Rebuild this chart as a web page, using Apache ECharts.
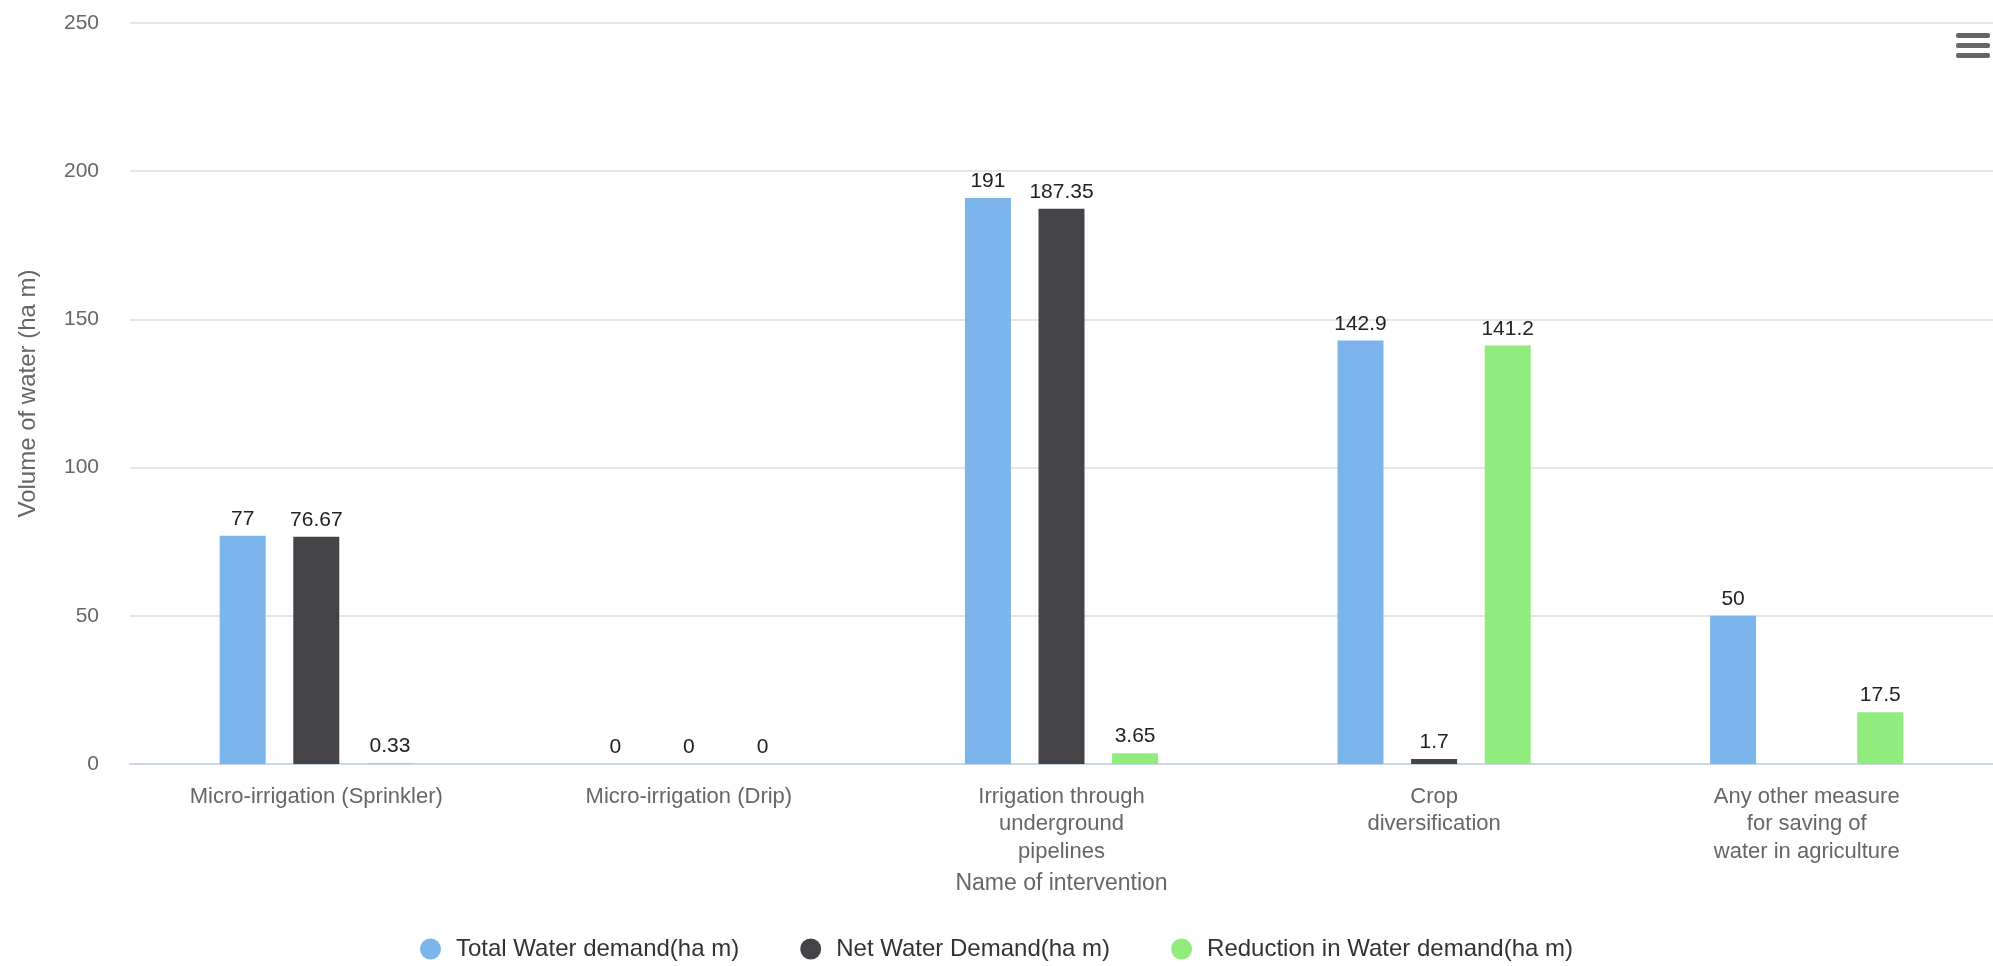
<!DOCTYPE html>
<html>
<head>
<meta charset="utf-8">
<script src="https://cdn.jsdelivr.net/npm/echarts@6/dist/echarts.min.js"></script>
<style>
html,body{margin:0;padding:0;background:#fff;}
#chart{width:1993px;height:966px;}
</style>
</head>
<body>
<div id="chart"></div>
<script>
const categories = [
  "Micro-irrigation (Sprinkler)",
  "Micro-irrigation (Drip)",
  "Irrigation through\nunderground\npipelines",
  "Crop\ndiversification",
  "Any other measure\nfor saving of\nwater in agriculture"
];
const totalWaterDemand = [77, 0, 191, 142.9, 50];
const netWaterDemand = [76.67, 0, 187.35, 1.7, null];
const reductionInWaterDemand = [0.33, 0, 3.65, 141.2, 17.5];
const seriesNames = ["Total Water demand(ha m)", "Net Water Demand(ha m)", "Reduction in Water demand(ha m)"];
const yAxisTitle = "Volume of water (ha m)";
const xAxisTitle = "Name of intervention";

const FONT = "'Liberation Sans', Arial, sans-serif";
const colors = ["#7cb5ec", "#434348", "#90ed7d"];

const chart = echarts.init(document.getElementById('chart'), null, {renderer: 'canvas'});

function barSeries(name, data, color) {
  return {
    name: name,
    type: 'bar',
    data: data,
    barWidth: 46,
    barGap: '60%',
    itemStyle: {color: color},
    label: {
      show: true,
      position: 'top',
      distance: 6,
      color: '#222',
      fontFamily: FONT,
      fontSize: 21
    },
    emphasis: {disabled: true}
  };
}

chart.setOption({
  animation: false,
  color: colors,
  textStyle: {fontFamily: FONT},
  grid: {left: 130, right: 0, top: 23, bottom: 202, containLabel: false},
  legend: {
    data: seriesNames,
    bottom: 0,
    left: 'center',
    icon: 'circle',
    itemWidth: 21,
    itemHeight: 21,
    itemGap: 61,
    textStyle: {fontFamily: FONT, fontSize: 24, color: '#333', padding: [0, 0, 0, 10]}
  },
  xAxis: {
    type: 'category',
    data: categories,
    name: xAxisTitle,
    nameLocation: 'middle',
    nameGap: 108,
    nameTextStyle: {fontFamily: FONT, fontSize: 23, color: '#666'},
    axisLine: {show: true, lineStyle: {color: '#ccd6eb', width: 2}},
    axisTick: {show: false},
    axisLabel: {
      interval: 0,
      margin: 19,
      fontFamily: FONT,
      fontSize: 22,
      lineHeight: 27.5,
      color: '#666',
      align: 'center'
    },
    splitLine: {show: false}
  },
  yAxis: {
    type: 'value',
    min: 0,
    max: 250,
    interval: 50,
    name: yAxisTitle,
    nameLocation: 'middle',
    nameGap: 90,
    nameRotate: 90,
    nameTextStyle: {fontFamily: FONT, fontSize: 24, color: '#666'},
    axisLine: {show: false},
    axisTick: {show: false},
    axisLabel: {fontFamily: FONT, fontSize: 21, color: '#666', margin: 31},
    splitLine: {lineStyle: {color: '#e6e6e6', width: 2}}
  },
  graphic: [{
    type: 'group',
    right: 3,
    top: 33,
    children: [
      {type: 'rect', shape: {x: 0, y: 0, width: 34, height: 5, r: 2}, style: {fill: '#666'}},
      {type: 'rect', shape: {x: 0, y: 10, width: 34, height: 5, r: 2}, style: {fill: '#666'}},
      {type: 'rect', shape: {x: 0, y: 20, width: 34, height: 5, r: 2}, style: {fill: '#666'}}
    ]
  }],
  series: [
    barSeries(seriesNames[0], totalWaterDemand, colors[0]),
    barSeries(seriesNames[1], netWaterDemand, colors[1]),
    barSeries(seriesNames[2], reductionInWaterDemand, colors[2])
  ]
});
</script>
</body>
</html>
